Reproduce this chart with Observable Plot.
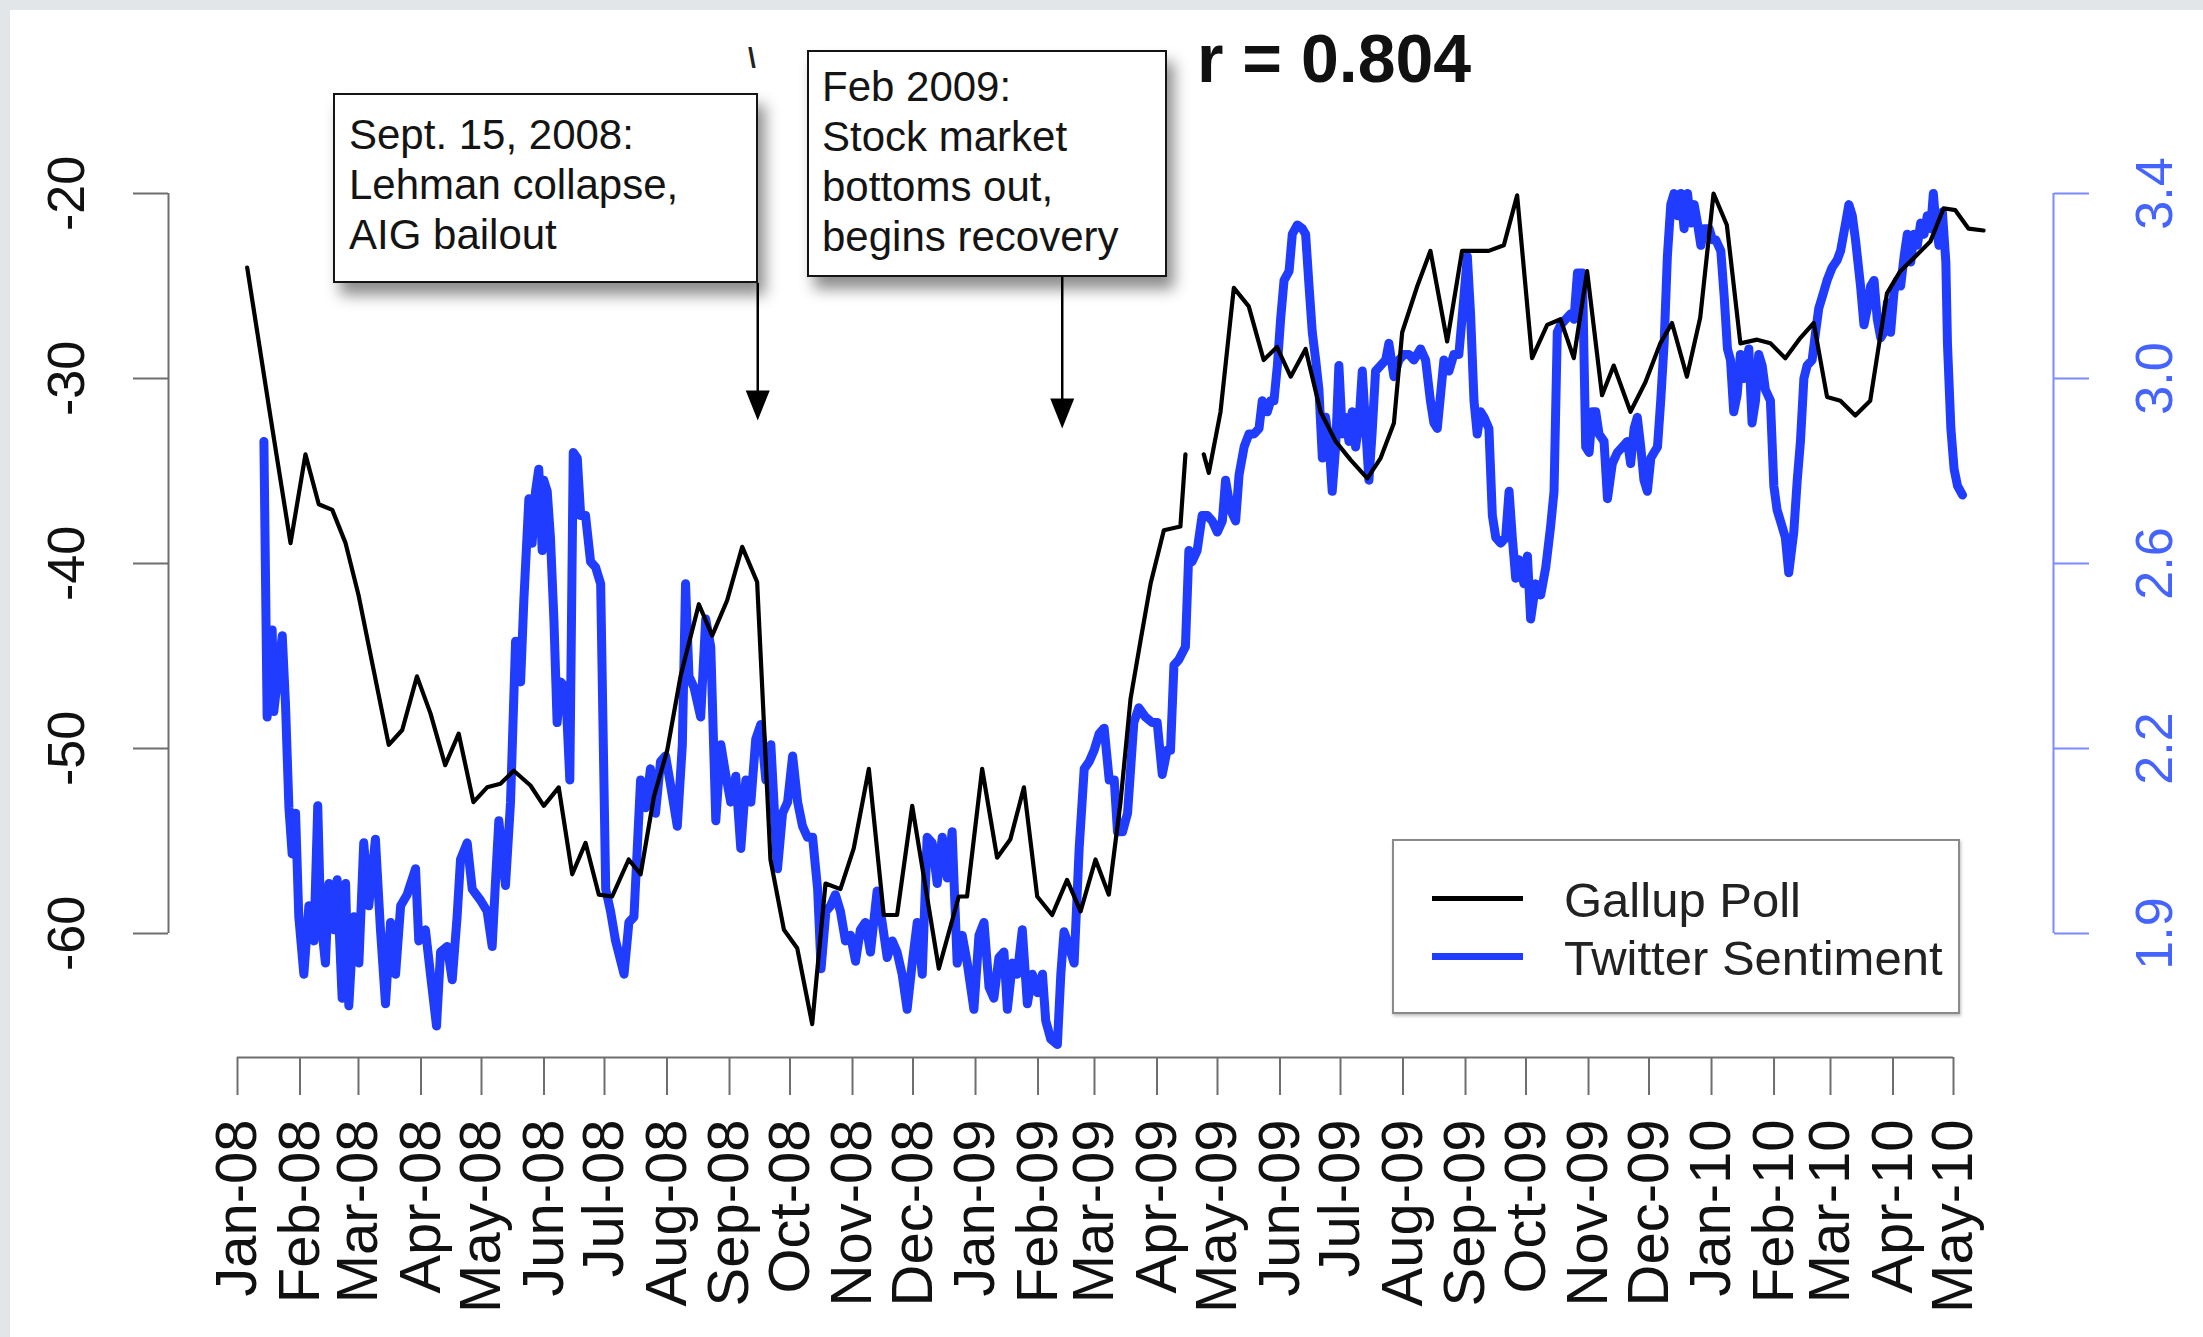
<!DOCTYPE html>
<html>
<head>
<meta charset="utf-8">
<script src="https://cdn.jsdelivr.net/npm/d3@7"></script>
<script src="https://cdn.jsdelivr.net/npm/@observablehq/plot@0.6"></script>
<style>
  html, body { margin:0; padding:0; width:2203px; height:1337px; overflow:hidden; background:#e3e6e9; }
  body { position:relative; font-family:"Liberation Sans", Arial, Helvetica, sans-serif; }
  #panel { position:absolute; left:10px; top:10px; width:2193px; height:1327px; background:#fff; }
  #chart { position:absolute; left:0; top:0; width:2203px; height:1337px; }
  .note { position:absolute; box-sizing:border-box; background:#fff; border:2.5px solid #141414;
          box-shadow: 7px 12px 14px rgba(0,0,0,0.45); font-size:42px; line-height:50px; color:#141414; white-space:nowrap; }
  #note1 { left:333px; top:93px; width:425px; height:190px; padding:15px 0 0 14px; }
  #note2 { left:807px; top:50px; width:360px; height:227px; padding:10px 0 0 13px; }
  #title { position:absolute; left:1197px; top:24px; font-size:68px; line-height:68px; font-weight:bold; color:#111; white-space:nowrap; }
  #frag { position:absolute; left:748px; top:44px; font-size:28px; line-height:28px; font-weight:bold; color:#222; }
  #legend { position:absolute; left:1392px; top:839px; width:568px; height:175px; box-sizing:border-box;
            border:2px solid #8a8a8a; background:#fff; box-shadow: 1px 2px 3px rgba(0,0,0,0.25); }
  .lg-line { position:absolute; left:38px; width:91px; }
  .lg-text { position:absolute; left:170px; font-size:49px; line-height:49px; color:#222; white-space:nowrap; }
</style>
</head>
<body>
<div id="panel"></div>
<div id="chart"></div>
<div id="frag">\</div>
<div id="title">r = 0.804</div>
<div class="note" id="note1"></div>
<div class="note" id="note2"></div>
<div id="legend"></div>
<script>
// ---------------- data ----------------
const xTickLabels = ["Jan-08","Feb-08","Mar-08","Apr-08","May-08","Jun-08","Jul-08","Aug-08","Sep-08","Oct-08","Nov-08","Dec-08",
  "Jan-09","Feb-09","Mar-09","Apr-09","May-09","Jun-09","Jul-09","Aug-09","Sep-09","Oct-09","Nov-09","Dec-09",
  "Jan-10","Feb-10","Mar-10","Apr-10","May-10"];
const yTicks = [-20, -30, -40, -50, -60];                 // Gallup (left axis)
const rightTickLabels = ["3.4", "3.0", "2.6", "2.2", "1.9"]; // Twitter (right axis)
const seriesNames = ["Gallup Poll", "Twitter Sentiment"];

// Gallup consumer confidence: [days since 2008-01-01, value]; NaN = gap in the series
const gallup = [[4.8,-24.0],[16.4,-32.1],[26.3,-38.9],[33.7,-34.1],[40.3,-36.8],[47.0,-37.1],[53.6,-38.9],[60.0,-41.7],
[67.6,-45.8],[75.0,-49.8],[81.7,-49.0],[89.0,-46.1],[95.7,-48.1],[103.0,-50.9],[109.7,-49.2],[117.0,-52.9],[123.8,-52.1],
[130.4,-51.9],[137.0,-51.2],[145.3,-52.0],[151.9,-53.1],[159.3,-52.1],[166.0,-56.8],[172.6,-55.1],[179.2,-57.9],[185.8,-58.0],
[194.0,-56.0],[199.9,-56.8],[206.5,-52.6],[213.1,-50.1],[219.7,-46.1],[228.8,-42.2],[235.4,-43.9],[242.8,-42.0],[250.3,-39.1],
[257.7,-41.0],[264.3,-56.0],[271.0,-59.8],[277.6,-60.8],[285.0,-64.9],[291.6,-57.3],[299.0,-57.6],[305.6,-55.4],[313.1,-51.1],
[320.5,-59.0],[327.1,-59.0],[334.6,-53.1],[347.8,-61.9],[357.7,-58.0],[361.8,-58.0],[369.3,-51.1],[376.7,-55.9],[383.3,-54.9],
[390.0,-52.1],[396.6,-58.0],[404.0,-59.0],[411.4,-57.1],[418.1,-58.8],[425.5,-56.0],[432.1,-57.9],[437.9,-52.9],[442.9,-47.3],
[447.8,-44.2],[452.8,-41.1],[459.4,-38.2],[467.6,-38.0],[470.1,-34.1],[475.0,NaN],[479.2,-34.1],[481.7,-35.1],[487.5,-31.8],
[494.1,-25.1],[501.5,-26.1],[508.9,-29.0],[515.5,-28.3],[522.3,-29.9],[529.7,-28.4],[537.1,-31.8],[544.6,-33.4],[552.0,-34.4],
[560.3,-35.4],[566.9,-34.3],[573.5,-32.4],[577.6,-27.5],[585.1,-25.0],[591.6,-23.1],[599.9,-28.0],[607.3,-23.1],[620.5,-23.1],
[628.0,-22.8],[634.6,-20.1],[642.0,-28.9],[649.5,-27.1],[656.1,-26.8],[662.7,-28.9],[669.3,-24.2],[676.7,-30.9],[682.5,-29.3],
[690.8,-31.8],[698.2,-30.2],[705.6,-28.1],[711.4,-27.0],[718.8,-29.9],[725.4,-26.7],[732.0,-20.0],[738.6,-21.7],[745.3,-28.1],
[753.6,-27.9],[760.2,-28.1],[767.6,-28.9],[775.1,-27.8],[781.7,-27.0],[788.3,-31.0],[794.9,-31.2],[802.3,-32.0],[809.7,-31.2],
[818.0,-25.4],[824.6,-24.2],[832.1,-23.4],[839.5,-22.6],[846.1,-20.8],[851.9,-20.9],[858.5,-21.9],[865.9,-22.0]];

// Twitter sentiment: [days since 2008-01-01, sentiment score]
const twitter = [[13.1,2.864],[14.7,2.268],[17.2,2.456],[18.0,2.280],[22.2,2.444],[23.8,2.296],[25.5,2.072],[27.1,1.972],
[28.8,2.060],[30.4,1.836],[32.9,1.712],[35.4,1.860],[37.9,1.784],[39.8,2.076],[41.2,1.836],[43.6,1.736],[45.3,1.908],[47.8,1.808],
[49.4,1.916],[51.9,1.660],[53.6,1.908],[55.2,1.644],[57.7,1.836],[60.2,1.736],[62.6,1.996],[65.1,1.860],[68.4,2.004],[70.9,1.808],
[73.4,1.648],[75.9,1.824],[78.4,1.712],[80.9,1.860],[84.1,1.884],[88.3,1.940],[89.9,1.784],[93.2,1.808],[95.7,1.712],[98.7,1.600],
[100.7,1.760],[104.0,1.772],[106.5,1.700],[108.9,1.836],[110.6,1.960],[113.9,1.996],[116.4,1.896],[120.5,1.872],[123.8,1.848],
[126.3,1.772],[127.9,1.908],[129.6,2.044],[132.9,1.904],[135.4,2.084],[137.9,2.432],[140.4,2.344],[142.0,2.520],[144.5,2.740],
[146.1,2.644],[147.8,2.756],[149.4,2.804],[151.1,2.628],[151.9,2.780],[153.6,2.756],[155.2,2.656],[156.9,2.480],[158.5,2.256],
[160.2,2.344],[162.7,2.332],[164.8,2.132],[166.5,2.840],[168.5,2.828],[170.2,2.704],[172.6,2.704],[175.1,2.604],[177.6,2.592],
[180.1,2.556],[182.6,1.896],[185.0,1.848],[187.5,1.784],[191.7,1.712],[194.1,1.824],[196.6,1.836],[199.9,2.132],[202.4,2.072],
[204.8,2.156],[207.3,2.060],[209.8,2.172],[212.3,2.184],[214.8,2.120],[218.1,2.032],[220.6,2.208],[222.2,2.556],[223.9,2.356],
[226.4,2.332],[229.7,2.268],[232.2,2.480],[234.7,2.420],[237.2,2.044],[239.7,2.208],[242.1,2.144],[244.6,2.084],[247.1,2.140],
[249.6,1.984],[252.1,2.132],[254.6,2.084],[257.0,2.220],[259.5,2.252],[262.0,2.132],[264.5,2.208],[267.8,1.940],[270.3,2.060],
[272.8,2.084],[275.3,2.184],[277.8,2.084],[280.2,2.032],[282.7,2.008],[285.2,2.008],[287.7,1.896],[289.4,1.724],[291.8,1.848],
[294.1,1.860],[296.5,1.884],[299.0,1.848],[301.5,1.784],[304.0,1.796],[306.5,1.740],[308.9,1.808],[311.4,1.824],[313.9,1.760],
[317.2,1.892],[319.7,1.824],[322.2,1.748],[324.7,1.784],[327.1,1.760],[329.6,1.712],[332.1,1.636],[334.6,1.736],[337.1,1.824],
[339.6,1.712],[342.0,2.008],[344.5,1.996],[347.0,1.908],[349.5,2.008],[352.0,1.920],[354.4,2.020],[356.9,1.736],[359.4,1.796],
[361.9,1.736],[365.2,1.636],[367.7,1.796],[370.2,1.824],[372.7,1.684],[375.1,1.660],[377.6,1.748],[380.1,1.760],[381.8,1.636],
[384.3,1.736],[386.7,1.712],[389.2,1.808],[391.7,1.648],[394.2,1.712],[396.7,1.672],[399.2,1.712],[400.8,1.612],[403.3,1.572],
[406.6,1.560],[408.3,1.712],[409.9,1.804],[412.4,1.772],[414.9,1.736],[417.4,1.984],[419.9,2.156],[422.4,2.172],[424.8,2.196],
[427.3,2.232],[429.8,2.244],[432.3,2.132],[434.8,2.132],[436.4,2.020],[438.9,2.020],[441.4,2.060],[444.5,2.256],[447.0,2.288],
[450.3,2.268],[453.6,2.256],[456.1,2.256],[458.6,2.144],[461.0,2.196],[462.7,2.196],[464.4,2.380],[466.8,2.392],[470.1,2.420],
[471.8,2.628],[473.4,2.604],[475.9,2.628],[478.4,2.704],[480.9,2.704],[483.4,2.692],[485.9,2.668],[488.4,2.692],[490.0,2.780],
[492.5,2.716],[495.0,2.692],[496.7,2.792],[499.2,2.852],[501.6,2.880],[504.1,2.880],[506.6,2.892],[508.2,2.952],[510.7,2.928],
[512.4,2.952],[514.0,2.952],[515.7,3.028],[517.3,3.128],[519.0,3.212],[521.5,3.232],[523.1,3.312],[525.6,3.332],[528.1,3.324],
[529.7,3.312],[531.4,3.200],[533.0,3.100],[534.7,3.040],[536.3,2.976],[538.0,2.828],[539.6,2.916],[541.3,2.864],[542.9,2.756],
[544.6,2.852],[546.2,3.028],[547.9,2.880],[549.5,2.916],[551.2,2.864],[552.8,2.928],[554.5,2.852],[556.1,2.900],[557.8,3.016],
[559.4,2.900],[561.1,2.780],[562.7,2.884],[564.4,3.016],[566.9,3.028],[569.4,3.040],[571.0,3.076],[573.5,3.004],[576.0,3.040],
[578.5,3.052],[581.0,3.052],[583.4,3.040],[586.7,3.064],[589.2,3.040],[591.6,2.952],[593.3,2.904],[595.0,2.892],[596.6,2.964],
[598.3,3.040],[600.8,3.016],[603.2,3.052],[605.7,3.052],[608.2,3.176],[609.9,3.264],[611.5,3.140],[613.2,2.952],[614.8,2.880],
[616.5,2.928],[618.2,2.916],[620.6,2.892],[622.3,2.704],[624.0,2.656],[626.4,2.644],[628.9,2.656],[630.6,2.756],[632.2,2.656],
[633.9,2.568],[635.5,2.608],[638.0,2.556],[639.7,2.616],[641.3,2.480],[643.8,2.556],[646.3,2.532],[648.8,2.592],[651.2,2.680],
[652.9,2.756],[654.5,3.100],[656.2,3.116],[658.7,3.128],[661.2,3.140],[662.8,3.128],[664.5,3.228],[667.0,3.228],[668.6,2.852],
[670.3,2.840],[671.9,2.928],[673.6,2.928],[675.2,2.880],[677.7,2.864],[679.4,2.740],[681.8,2.816],[684.3,2.840],[686.8,2.852],
[689.3,2.864],[690.9,2.816],[692.6,2.892],[694.2,2.916],[695.9,2.852],[697.5,2.780],[699.2,2.756],[700.9,2.828],[702.5,2.840],
[704.2,2.852],[705.8,2.952],[707.5,3.076],[709.1,3.264],[710.8,3.376],[712.4,3.400],[714.1,3.352],[715.8,3.400],[717.4,3.324],
[719.1,3.400],[720.7,3.336],[722.4,3.376],[724.0,3.336],[725.7,3.288],[727.3,3.324],[729.8,3.324],[731.5,3.300],[733.1,3.300],
[735.6,3.276],[737.3,3.176],[738.9,3.064],[740.4,3.040],[742.0,2.928],[743.7,2.964],[745.3,3.052],[747.0,3.000],[749.5,3.064],
[751.1,2.904],[752.8,2.952],[754.4,3.052],[756.1,3.028],[757.7,2.976],[760.2,2.952],[761.9,2.768],[763.5,2.716],[766.0,2.680],
[767.6,2.656],[769.3,2.580],[771.8,2.668],[773.5,2.780],[775.1,2.864],[776.8,3.000],[778.4,3.028],[780.9,3.040],[782.6,3.100],
[784.2,3.152],[786.7,3.188],[788.3,3.212],[790.8,3.240],[793.3,3.256],[795.0,3.276],[797.5,3.336],[799.1,3.376],[800.8,3.352],
[802.4,3.300],[804.9,3.200],[806.6,3.116],[808.3,3.152],[809.9,3.200],[811.6,3.212],[813.2,3.128],[814.9,3.088],[816.5,3.100],
[818.2,3.164],[819.8,3.100],[821.5,3.188],[823.2,3.212],[824.8,3.200],[826.5,3.264],[828.1,3.312],[829.8,3.252],[831.4,3.312],
[833.1,3.288],[834.7,3.336],[836.4,3.312],[838.0,3.352],[839.7,3.324],[841.0,3.400],[842.2,3.336],[843.8,3.288],[845.5,3.360],
[847.2,3.252],[848.0,3.076],[849.7,2.892],[851.3,2.804],[853.0,2.768],[855.5,2.748]];

// annotated events
const eventDates = ["2008-09-15", "2009-02-13"];
const eventText = [["Sept. 15, 2008:", "Lehman collapse,", "AIG bailout"],
                   ["Feb 2009:", "Stock market", "bottoms out,", "begins recovery"]];

// ---------------- build ----------------
const origin = Date.UTC(2008, 0, 1);
const toDate = d => new Date(origin + d * 864e5);
const xTicks = xTickLabels.map(d3.utcParse("%b-%y"));
const gallupData = gallup.map(([d, v]) => ({date: toDate(d), value: v}));
const twitterData = twitter.map(([d, v]) => ({date: toDate(d), value: v}));
// secondary axis: Twitter score 3.4 aligns with Gallup -20, 2.2 with -50
const twToY = d3.scaleLinear().domain([2.2, 3.4]).range([-50, -20]);
const events = eventDates.map(d3.utcParse("%Y-%m-%d"));

const BLUE = "#1f3cff", AXIS = "#6e6e6e", RAXIS = "#7b8bff", RLABEL = "#4563ff";
const FONT = "'Liberation Sans', Arial, Helvetica, sans-serif";
const arrowHead = {draw(ctx) { ctx.moveTo(0, 0); ctx.lineTo(-12, -30); ctx.lineTo(12, -30); ctx.closePath(); }};

const chart = Plot.plot({
  width: 2203, height: 1337,
  marginLeft: 168, marginRight: 150, marginTop: 193, marginBottom: 280,
  style: {background: "transparent", fontFamily: FONT, overflow: "visible"},
  x: {type: "utc", domain: [xTicks[0], xTicks[xTicks.length - 1]], range: [237, 1953], axis: null, label: null},
  y: {domain: [-60, -20], range: [933, 193], axis: null, label: null},
  marks: [
    // left axis
    Plot.ruleX([xTicks[0]], {y1: yTicks[0], y2: yTicks[yTicks.length - 1], dx: -69, stroke: AXIS, strokeWidth: 2}),
    Plot.axisY(yTicks, {anchor: "left", label: null, tickSize: 35, stroke: AXIS, strokeWidth: 2, tickFormat: () => ""}),
    Plot.text(yTicks, {y: d => d, text: d => String(d), frameAnchor: "left", dx: -101, rotate: -90,
      textAnchor: "middle", lineAnchor: "middle", fontSize: 52, fill: "#111"}),
    // right axis
    Plot.ruleX([xTicks[xTicks.length - 1]], {y1: yTicks[0], y2: yTicks[yTicks.length - 1], dx: 100, stroke: RAXIS, strokeWidth: 2}),
    Plot.axisY(yTicks, {anchor: "right", label: null, tickSize: 35, stroke: RAXIS, strokeWidth: 2, tickFormat: () => ""}),
    Plot.text(yTicks, {y: d => d, text: (d, i) => rightTickLabels[i], frameAnchor: "right", dx: 102, rotate: -90,
      textAnchor: "middle", lineAnchor: "middle", fontSize: 52, fill: RLABEL}),
    // bottom axis
    Plot.ruleY([yTicks[yTicks.length - 1]], {x1: xTicks[0], x2: xTicks[xTicks.length - 1], dy: 124, stroke: AXIS, strokeWidth: 2}),
    Plot.axisX(xTicks, {anchor: "bottom", label: null, tickSize: 38, stroke: AXIS, strokeWidth: 2, tickFormat: () => ""}),
    Plot.text(xTicks, {x: d => d, text: (d, i) => xTickLabels[i], frameAnchor: "bottom", dy: 62, rotate: -90,
      textAnchor: "end", lineAnchor: "middle", fontSize: 58, fill: "#111"}),
    // series
    Plot.line(twitterData, {x: "date", y: d => twToY(d.value), stroke: BLUE, strokeWidth: 9,
      strokeLinejoin: "round", strokeLinecap: "round"}),
    Plot.line(gallupData, {x: "date", y: "value", stroke: "#000", strokeWidth: 4.2, strokeLinejoin: "round"}),
    // annotation arrows
    Plot.ruleX(events, {x: d => d, y1: (d, i) => [-24.86, -24.54][i], y2: (d, i) => [-31.0, -31.4][i], stroke: "#000", strokeWidth: 2.5}),
    Plot.dot(events, {x: d => d, y: (d, i) => [-32.27, -32.7][i], symbol: arrowHead, r: 10, fill: "#000", stroke: "none"})
  ]
});
document.getElementById("chart").appendChild(chart);

// annotation boxes
["note1", "note2"].forEach((id, i) => {
  document.getElementById(id).innerHTML = eventText[i].map(t => `<div>${t}</div>`).join("");
});

// legend
const legend = document.getElementById("legend");
const lgColors = ["#000", BLUE], lgWidths = [5, 7], lgLineTop = [54.5, 111.5], lgTextTop = [34.5, 92.5];
seriesNames.forEach((name, i) => {
  const l = document.createElement("div");
  l.className = "lg-line";
  l.style.cssText = `top:${lgLineTop[i]}px;height:${lgWidths[i]}px;background:${lgColors[i]};`;
  legend.appendChild(l);
  const t = document.createElement("div");
  t.className = "lg-text";
  t.style.top = lgTextTop[i] + "px";
  t.textContent = name;
  legend.appendChild(t);
});
</script>
</body>
</html>
